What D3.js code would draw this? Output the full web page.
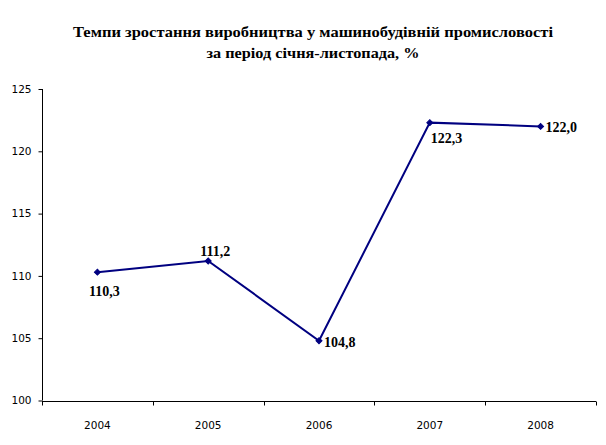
<!DOCTYPE html>
<html><head><meta charset="utf-8">
<script src="https://cdn.jsdelivr.net/npm/d3@7/dist/d3.min.js"></script>
<style>body{margin:0;background:#fff}svg{display:block}</style>
</head><body>
<svg id="c" width="606" height="445"></svg>
<script>
const titleLines = ["Темпи зростання виробництва у машинобудівній промисловості", "за період січня-листопада, %"];
const years = ["2004", "2005", "2006", "2007", "2008"];
const values = [110.3, 111.2, 104.8, 122.3, 122.0];
const valueLabels = ["110,3", "111,2", "104,8", "122,3", "122,0"];
const labelPlacement = ["below", "above", "right", "belowRight", "right"];
const yTicks = [100, 105, 110, 115, 120, 125];

const svg = d3.select("#c");
const mLeft = 42, mRight = 596, mTop = 89, mBottom = 400.5;

const x = d3.scalePoint().domain(years).range([mLeft, mRight]).padding(0.5);
const xBand = d3.scaleBand().domain(years).range([mLeft, mRight]);
const y = d3.scaleLinear().domain([100, 125]).range([mBottom, mTop]);

// title
const titleWidths = [480, 213];
const t = svg.append("g")
  .style("font-family", "'Liberation Serif', 'Times New Roman', serif")
  .style("font-weight", "bold").style("font-size", "14px");
titleLines.forEach((s, i) => {
  t.append("text").attr("x", 313 - titleWidths[i] / 2).attr("y", 36.7 + i * 21)
    .attr("textLength", titleWidths[i]).attr("lengthAdjust", "spacingAndGlyphs")
    .attr("fill", "#000").text(s);
});

// y axis
const yAxis = d3.axisLeft(y).tickValues(yTicks).tickSize(4).tickPadding(7).tickFormat(d3.format("d"));
const gy = svg.append("g").attr("transform", `translate(${mLeft + 0.5},0)`).call(yAxis);
gy.select(".domain").attr("d", `M0,${mTop}V${mBottom}`).attr("stroke", "#000");
gy.selectAll(".tick line").attr("stroke", "#000");
gy.selectAll(".tick text").style("font-family", "'DejaVu Sans', Tahoma, sans-serif").style("font-size", "10.5px").attr("fill", "#000");

// x axis with ticks on band boundaries
const gx = svg.append("g").attr("transform", `translate(0,${Math.round(mBottom) + 0.5})`);
gx.append("line").attr("x1", mLeft).attr("x2", mRight).attr("stroke", "#000");
const bounds = years.map(d => xBand(d)).concat([xBand(years[years.length - 1]) + xBand.bandwidth()]);
gx.selectAll("line.tk").data(bounds).join("line").attr("class", "tk")
  .attr("x1", d => Math.round(d) + 0.5).attr("x2", d => Math.round(d) + 0.5).attr("y1", 0).attr("y2", 4).attr("stroke", "#000");
gx.selectAll("text").data(years).join("text")
  .attr("x", d => x(d)).attr("y", 27).attr("text-anchor", "middle")
  .style("font-family", "'DejaVu Sans', Tahoma, sans-serif").style("font-size", "10.5px").attr("fill", "#000")
  .text(d => d);

// line
const data = years.map((d, i) => ({ year: d, value: values[i], label: valueLabels[i], pos: labelPlacement[i] }));
const line = d3.line().x(d => x(d.year)).y(d => y(d.value));
svg.append("path").datum(data).attr("d", line).attr("fill", "none").attr("stroke", "#000080").attr("stroke-width", 2);

svg.selectAll("path.m").data(data).join("path").attr("class", "m")
  .attr("d", d3.symbol(d3.symbolSquare, 18))
  .attr("transform", d => `translate(${x(d.year)},${y(d.value)}) rotate(45)`)
  .attr("fill", "#000080").attr("stroke", "#000080").attr("stroke-width", 1);

const off = {
  below: [7, 24, "middle"],
  above: [7, -5, "middle"],
  right: [5, 6, "start"],
  belowRight: [1, 20, "start"]
};
svg.selectAll("text.lbl").data(data).join("text").attr("class", "lbl")
  .attr("x", d => x(d.year) + off[d.pos][0])
  .attr("y", d => y(d.value) + off[d.pos][1])
  .attr("text-anchor", d => off[d.pos][2])
  .style("font-family", "'Liberation Serif', 'Times New Roman', serif")
  .style("font-weight", "bold").style("font-size", "14px").attr("fill", "#000")
  .text(d => d.label);
</script>
</body></html>
